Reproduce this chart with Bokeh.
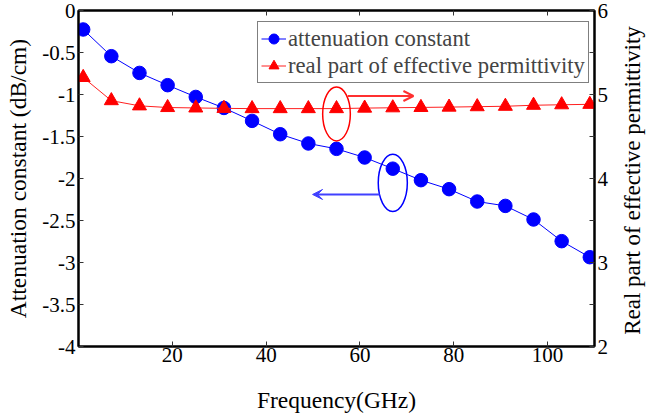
import math
from bokeh.plotting import figure
from bokeh.layouts import row
from bokeh.models import (Range1d, LinearAxis, FixedTicker, Legend, LegendItem,
                          Arrow, VeeHead, OpenHead, ColumnDataSource, Label)
from bokeh.embed import file_html
from bokeh.resources import INLINE

# ---- data ----
freq = [1, 7, 13, 19, 25, 31, 37, 43, 49, 55, 61, 67, 73, 79, 85, 91, 97, 103, 109]
atten = [-0.226, -0.544, -0.743, -0.889, -1.029, -1.160, -1.314, -1.473, -1.583, -1.647,
         -1.750, -1.883, -2.020, -2.127, -2.274, -2.326, -2.488, -2.746, -2.937]
perm = [5.203, 4.927, 4.865, 4.845, 4.840, 4.835, 4.832, 4.832, 4.832, 4.832,
        4.838, 4.842, 4.846, 4.850, 4.855, 4.860, 4.872, 4.878, 4.883]

x_ticks = [20, 40, 60, 80, 100]
left_ticks = [-4, -3.5, -3, -2.5, -2, -1.5, -1, -0.5, 0]
left_labels = ["-4", "-3.5", "-3", "-2.5", "-2", "-1.5", "-1", "-0.5", "0"]
right_major = [2, 3, 4, 5, 6]
right_minor = [2.5, 3.5, 4.5, 5.5]
right_labels = ["2", "3", "4", "5", "6"]

legend_labels = ["attenuation constant", "real part of effective permittivity"]
x_label = "Frequency(GHz)"
left_label = "Attenuation constant (dB/cm)"
right_label = "Real part of effective permittivity"

# annotation ellipses / arrows (data coords, left axis)
red_ell = dict(x=55.0, y=-1.231, w=5.9, h=0.643)
blue_ell = dict(x=67.0, y=-2.052, w=6.2, h=0.68)
red_arrow = dict(x0=57.4, x1=71.4, y=-1.018)
blue_arrow = dict(x0=64.2, x1=49.9, y=-2.19)

FONT = "Liberation Serif"
MAIN_W, H = 616, 416
SIDE_W = 668 - MAIN_W
FRAME_TOP, FRAME_BOTTOM = 10, 346

p = figure(width=MAIN_W, height=H, output_backend="svg", toolbar_location=None,
           x_range=Range1d(0, 110), y_range=Range1d(-4, 0),
           min_border_left=78, min_border_right=22,
           min_border_top=FRAME_TOP, min_border_bottom=H - FRAME_BOTTOM)
p.extra_y_ranges = {"right": Range1d(2, 6)}
p.xgrid.visible = False
p.ygrid.visible = False
p.outline_line_color = "black"
p.outline_line_width = 2
p.background_fill_color = "white"
p.border_fill_color = "white"

def style_axis(ax):
    ax.axis_line_color = "black"
    ax.axis_line_width = 2
    ax.major_tick_in = 5
    ax.major_tick_out = 0
    ax.minor_tick_in = 0
    ax.minor_tick_out = 0
    ax.major_tick_line_color = "#333333"
    ax.major_tick_line_width = 1
    ax.minor_tick_line_color = "#333333"
    ax.minor_tick_line_width = 1
    ax.major_label_text_font = FONT
    ax.major_label_text_font_size = "21px"
    ax.major_label_text_color = "black"
    ax.axis_label_text_font = FONT
    ax.axis_label_text_font_size = "23.5px"
    ax.axis_label_text_font_style = "normal"
    ax.axis_label_text_color = "black"

xa = p.xaxis[0]
style_axis(xa)
xa.ticker = FixedTicker(ticks=x_ticks)
xa.axis_label = x_label
xa.major_label_standoff = 1
xa.axis_label_standoff = 22

ya = p.yaxis[0]
style_axis(ya)
ya.ticker = FixedTicker(ticks=left_ticks)
ya.major_label_overrides = {t: l for t, l in zip(left_ticks, left_labels)}
ya.axis_label = left_label
ya.major_label_standoff = 3
ya.axis_label_standoff = 8

ra = LinearAxis(y_range_name="right")
style_axis(ra)
ra.ticker = FixedTicker(ticks=right_major, minor_ticks=right_minor)
ra.minor_tick_in = 5
ra.major_label_overrides = {t: l for t, l in zip(right_major, right_labels)}
ra.major_label_standoff = 3
p.add_layout(ra, "right")

ta = LinearAxis()
style_axis(ta)
ta.ticker = FixedTicker(ticks=[], minor_ticks=x_ticks)
ta.minor_tick_in = 5
p.add_layout(ta, "above")

src = ColumnDataSource(dict(freq=freq, atten=atten, perm=perm))

bl = p.line("freq", "atten", source=src, line_color="blue", line_width=1)
bs = p.scatter("freq", "atten", source=src, marker="circle", size=13.5,
               fill_color="blue", line_color="blue")
rl = p.line("freq", "perm", source=src, y_range_name="right", line_color="#ff2020", line_width=1)
rs = p.scatter("freq", "perm", source=src, y_range_name="right", marker="triangle", size=14,
               fill_color="red", line_color="red")

# annotations
p.ellipse(x=[red_ell["x"]], y=[red_ell["y"]], width=[red_ell["w"]], height=[red_ell["h"]],
          fill_color=None, line_color="red", line_width=1.5)
p.ellipse(x=[blue_ell["x"]], y=[blue_ell["y"]], width=[blue_ell["w"]], height=[blue_ell["h"]],
          fill_color=None, line_color="blue", line_width=1.5)
p.add_layout(Arrow(end=OpenHead(size=10, line_color="#ff3030", line_width=2),
                   x_start=red_arrow["x0"], y_start=red_arrow["y"],
                   x_end=red_arrow["x1"], y_end=red_arrow["y"],
                   line_color="#ff3030", line_width=2))
p.add_layout(Arrow(end=VeeHead(size=10, fill_color="#4040ff", line_color="#4040ff"),
                   x_start=blue_arrow["x0"], y_start=blue_arrow["y"],
                   x_end=blue_arrow["x1"], y_end=blue_arrow["y"],
                   line_color="#4040ff", line_width=2))

legend = Legend(items=[LegendItem(label=legend_labels[0], renderers=[bl, bs]),
                       LegendItem(label=legend_labels[1], renderers=[rl, rs])],
                location=(179, 263), margin=0, padding=3, spacing=0,
                glyph_width=25, glyph_height=27, label_height=27, label_standoff=2,
                label_text_font=FONT, label_text_font_size="22.7px",
                border_line_color="black", border_line_width=1.5,
                background_fill_color="white", background_fill_alpha=1)
p.add_layout(legend, "center")

# narrow side panel carrying the right-axis title (reads bottom-to-top);
# its frame is aligned with the main frame, so use pixel-like ranges
q = figure(width=SIDE_W, height=H, output_backend="svg", toolbar_location=None,
           x_range=Range1d(MAIN_W, 668), y_range=Range1d(FRAME_BOTTOM, FRAME_TOP),
           x_axis_type=None, y_axis_type=None, min_border=0,
           min_border_top=FRAME_TOP, min_border_bottom=H - FRAME_BOTTOM)
q.outline_line_color = None
q.background_fill_color = "white"
q.border_fill_color = "white"
q.add_layout(Label(x=632, y=180, text=right_label, angle=math.pi / 2,
                   text_align="center", text_baseline="middle",
                   text_font=FONT, text_font_size="23px", text_color="black"))

layout = row(p, q, spacing=0)
open("out.html", "w").write(file_html(layout, INLINE))
